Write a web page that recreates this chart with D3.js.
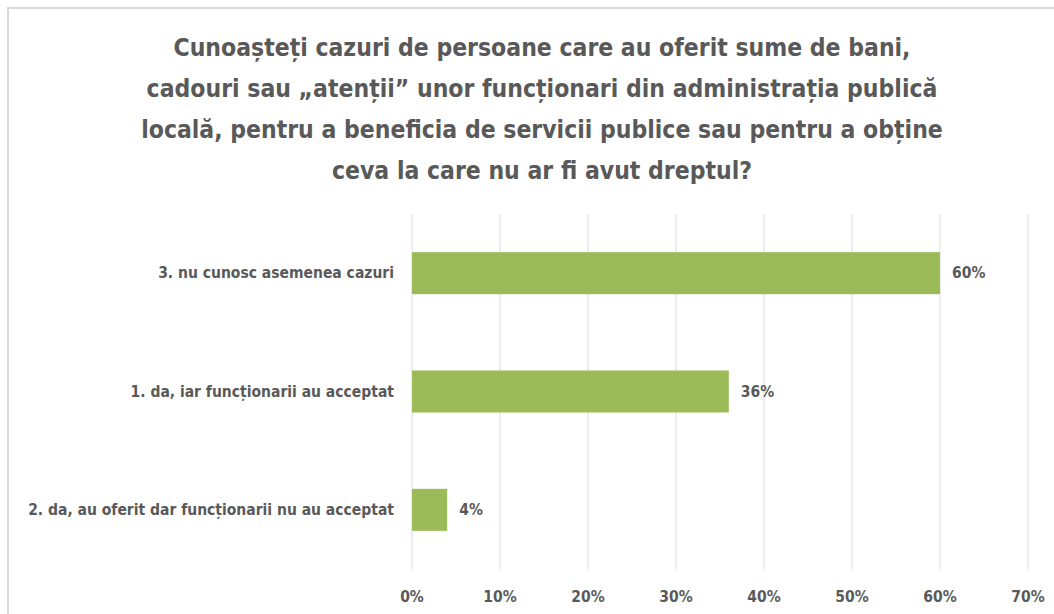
<!DOCTYPE html>
<html>
<head>
<meta charset="utf-8">
<script src="https://cdn.jsdelivr.net/npm/d3@7"></script>
<style>
  body { margin: 0; background: #fff; }
  text { font-family: "Liberation Sans Narrow", "DejaVu Sans Condensed", sans-serif; font-weight: bold; fill: #595959; }
</style>
</head>
<body>
<div id="chart"></div>
<script>
var width = 1054,
    height = 614;

var titleLines = [
    "Cunoașteți cazuri de persoane care au oferit sume de bani,",
    "cadouri sau „atenții” unor funcționari din administrația publică",
    "locală, pentru a beneficia de servicii publice sau pentru a obține",
    "ceva la care nu ar fi avut dreptul?"
];
var categories = [
    "3. nu cunosc asemenea cazuri",
    "1. da, iar funcționarii au acceptat",
    "2. da, au oferit dar funcționarii nu au acceptat"
];
var values = [60, 36, 4];
var ticks = [0, 10, 20, 30, 40, 50, 60, 70];

var svg = d3.select("#chart").append("svg")
    .attr("width", width)
    .attr("height", height);

// chart border (only top/left visible in the crop)
svg.append("rect")
    .attr("x", 8).attr("y", 8)
    .attr("width", width + 10).attr("height", height + 10)
    .attr("fill", "none")
    .attr("stroke", "#d9d9d9")
    .attr("stroke-width", 2);

svg.append("g").selectAll("text")
    .data(titleLines)
    .enter().append("text")
    .attr("x", 542)
    .attr("y", function(d, i) { return 47 + i * 41; })
    .attr("text-anchor", "middle")
    .attr("dominant-baseline", "central")
    .style("font-size", "24.5px")
    .text(function(d) { return d; });

var x = d3.scaleLinear().domain([0, 70]).range([412, 1028]);
var y = d3.scaleBand().domain(categories).range([214, 569])
    .paddingInner(0.645).paddingOuter(0.3225);

svg.append("g").selectAll("line")
    .data(ticks)
    .enter().append("line")
    .attr("x1", function(d) { return x(d); })
    .attr("x2", function(d) { return x(d); })
    .attr("y1", 214).attr("y2", 569)
    .attr("stroke", "#d9d9d9")
    .attr("stroke-width", 1);

svg.append("g").selectAll("text")
    .data(ticks)
    .enter().append("text")
    .attr("x", function(d) { return x(d); })
    .attr("y", 597)
    .attr("text-anchor", "middle")
    .attr("dominant-baseline", "central")
    .style("font-size", "15.5px")
    .text(function(d) { return d + "%"; });

svg.append("g").selectAll("rect")
    .data(values)
    .enter().append("rect")
    .attr("x", x(0))
    .attr("y", function(d, i) { return y(categories[i]); })
    .attr("width", function(d) { return x(d) - x(0); })
    .attr("height", y.bandwidth())
    .attr("fill", "#9bbb59");

svg.append("g").selectAll("text")
    .data(values)
    .enter().append("text")
    .attr("x", function(d) { return x(d) + 12; })
    .attr("y", function(d, i) { return y(categories[i]) + y.bandwidth() / 2; })
    .attr("dominant-baseline", "central")
    .style("font-size", "15.5px")
    .text(function(d) { return d + "%"; });

svg.append("g").selectAll("text")
    .data(categories)
    .enter().append("text")
    .attr("x", 394)
    .attr("y", function(d) { return y(d) + y.bandwidth() / 2; })
    .attr("text-anchor", "end")
    .attr("dominant-baseline", "central")
    .style("font-size", "15.5px")
    .text(function(d) { return d; });
</script>
</body>
</html>
